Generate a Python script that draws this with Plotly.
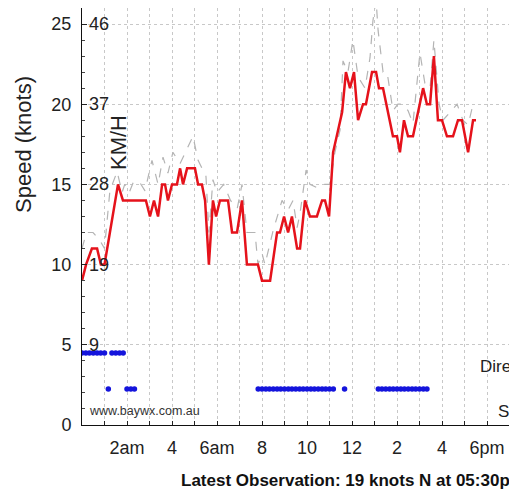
import plotly.graph_objects as go

# ---- data (hours since midnight, knots) ----
speed_h = [0.00, 0.18, 0.44, 0.67, 0.84, 1.00, 1.24, 1.60, 1.82, 2.84, 3.02, 3.20, 3.38, 3.56, 3.69,
           3.82, 4.00, 4.22, 4.36, 4.49, 4.67, 5.02, 5.16, 5.33, 5.47, 5.64, 5.82, 5.96, 6.13, 6.49,
           6.67, 6.89, 7.11, 7.33, 7.82, 8.00, 8.36, 8.67, 8.80, 8.98, 9.16, 9.33, 9.56, 9.69, 9.91,
           10.13, 10.44, 10.67, 10.80, 10.98, 11.16, 11.33, 11.56, 11.73, 11.91, 12.09, 12.27, 12.49,
           12.62, 12.89, 13.07, 13.20, 13.38, 13.82, 14.00, 14.13, 14.31, 14.49, 14.71, 15.16, 15.33,
           15.47, 15.64, 15.82, 16.00, 16.22, 16.49, 16.71, 16.89, 17.16, 17.38, 17.51]
speed_kt = [9, 10, 11, 11, 10, 10, 12, 15, 14, 14, 13, 14, 13, 15, 15,
            14, 15, 15, 16, 15, 16, 16, 15, 15, 14, 10, 14, 13, 14, 14,
            12, 12, 14, 10, 10, 9, 9, 12, 12, 13, 12, 13, 11, 11, 14,
            13, 13, 14, 14, 13, 17, 18, 19.5, 22, 21, 22, 19, 20,
            20, 22, 22, 21, 21, 18, 18, 17, 19, 18, 18, 21, 20,
            20, 23, 19, 19, 18, 18, 19, 19, 17, 19, 19]

gust_h = [0.00, 0.20, 0.49, 0.80, 1.00, 1.24, 1.56, 1.78, 1.90, 2.10, 2.30, 2.58, 2.80, 3.11, 3.38,
          3.60, 3.82, 4.04, 4.36, 4.58, 4.93, 5.16, 5.51, 5.64, 5.82, 6.00, 6.30, 6.60, 6.90, 7.11,
          7.33, 7.47, 7.69, 7.82, 8.00, 8.13, 8.49, 8.89, 9.16, 9.38, 9.56, 9.69, 9.96, 10.13, 10.44,
          10.67, 11.02, 11.24, 11.47, 11.60, 11.82, 12.04, 12.27, 12.58, 12.80, 12.93, 13.07, 13.16,
          13.38, 13.56, 13.82, 14.04, 14.27, 14.49, 14.71, 15.02, 15.24, 15.47, 15.64, 15.87, 16.04,
          16.36, 16.67, 16.93, 17.16, 17.38, 17.51]
gust_kt = [11, 12, 12, 11.5, 11, 14.6, 15.8, 14.5, 15, 14.5, 15.2, 15.1, 14.6, 16.5, 15,
           16.7, 15.7, 17, 16.3, 17, 18, 16.5, 15.5, 12, 15.3, 14.5, 15, 14, 13.5, 15,
           12, 12, 12, 10, 10.7, 10, 12.1, 14, 13.4, 14, 12.3, 13.2, 15.9, 15, 14.8,
           15, 15, 17, 18.4, 22.7, 22, 24, 21.7, 21, 22.9, 25.2, 26.5, 24.6,
           22, 22, 19.6, 20, 20, 19.6, 18.8, 23.2, 21.3, 21, 24, 20, 19,
           19.5, 20, 19, 18.7, 20, 20]

# wind direction strip: time (h) and row (1 = lower row, 2 = upper row)
dir_h = [0.00, 0.17, 0.33, 0.50, 0.67, 0.83, 1.00, 1.17, 1.33, 1.50, 1.67, 1.83, 2.00, 2.17, 2.33,
         7.83, 8.00, 8.17, 8.33, 8.50, 8.67, 8.83, 9.00, 9.17, 9.33, 9.50, 9.67, 9.83, 10.00, 10.17,
         10.33, 10.50, 10.67, 10.83, 11.00, 11.17, 11.67,
         13.17, 13.33, 13.50, 13.67, 13.83, 14.00, 14.17, 14.33, 14.50, 14.67, 14.83, 15.00, 15.17, 15.33]
dir_row = [2, 2, 2, 2, 2, 2, 2, 1, 2, 2, 2, 2, 1, 1, 1,
           1, 1, 1, 1, 1, 1, 1, 1, 1, 1, 1, 1, 1, 1, 1,
           1, 1, 1, 1, 1, 1, 1,
           1, 1, 1, 1, 1, 1, 1, 1, 1, 1, 1, 1, 1, 1]

x_tickvals = list(range(0, 20))
x_ticktext = ["", "", "2am", "", "4", "", "6am", "", "8", "", "10", "", "12", "", "2", "", "4", "", "6pm", ""]
y_tickvals = [0, 5, 10, 15, 20, 25]
kmh_knots = [25, 20, 15, 10, 5]
kmh_labels = ["46", "37", "28", "19", "9"]

FONT = "Liberation Sans, Arial, sans-serif"

# page body has an 8px margin: plot area spans viewport x 82..517, y 0..425
PW, PH = 435, 417


def px(vx):
    return (vx - 82) / PW


def py(vy):
    return (425 - vy) / PH


fig = go.Figure()
fig.add_trace(go.Scatter(x=gust_h, y=gust_kt, mode="lines",
                         line=dict(color="#b4b4b4", width=1.2, dash="dash"), hoverinfo="skip"))
fig.add_trace(go.Scatter(x=speed_h, y=speed_kt, mode="lines",
                         line=dict(color="#e5121b", width=2.5), hoverinfo="skip"))
fig.add_trace(go.Scatter(x=dir_h, y=dir_row, mode="markers", yaxis="y2",
                         marker=dict(color="#1414dc", size=5.5), hoverinfo="skip"))

annotations = []
for k, lab in zip(kmh_knots, kmh_labels):
    annotations.append(dict(x=px(87), xref="paper", y=k, yref="y", text=lab, showarrow=False,
                            xanchor="left", yanchor="middle", font=dict(family=FONT, size=18, color="#222")))
annotations += [
    dict(x=px(23), xref="paper", y=py(144), yref="paper", text="Speed (knots)", textangle=-90,
         showarrow=False, xanchor="center", yanchor="middle", font=dict(family=FONT, size=22, color="#222")),
    dict(x=px(118), xref="paper", y=py(143), yref="paper", text="KM/H", textangle=-90,
         showarrow=False, xanchor="center", yanchor="middle", font=dict(family=FONT, size=22, color="#222")),
    dict(x=px(87), xref="paper", y=py(411), yref="paper", text="www.baywx.com.au",
         showarrow=False, xanchor="left", yanchor="middle", font=dict(family=FONT, size=12.5, color="#333")),
    dict(x=px(478), xref="paper", y=py(366), yref="paper", text="Direction",
         showarrow=False, xanchor="left", yanchor="middle", font=dict(family=FONT, size=17, color="#222")),
    dict(x=px(496), xref="paper", y=py(411), yref="paper", text="Speed",
         showarrow=False, xanchor="left", yanchor="middle", font=dict(family=FONT, size=17, color="#222")),
    dict(x=px(179), xref="paper", y=py(480), yref="paper",
         text="<b>Latest Observation: 19 knots N at 05:30pm</b>",
         showarrow=False, xanchor="left", yanchor="middle", font=dict(family=FONT, size=17, color="#111")),
]

fig.update_layout(
    width=509, height=487,
    margin=dict(l=74, r=0, t=0, b=70),
    paper_bgcolor="white", plot_bgcolor="white",
    showlegend=False,
    font=dict(family=FONT, size=18, color="#222"),
    xaxis=dict(range=[0, PW / 22.5], tickvals=x_tickvals, ticktext=x_ticktext,
               ticks="inside", ticklen=4, tickcolor="#222",
               showline=True, linecolor="#111", linewidth=1,
               showgrid=True, gridcolor="#c8c8c8", griddash="dot", gridwidth=1,
               zeroline=False, ticklabelstandoff=6, tickfont=dict(size=18)),
    yaxis=dict(range=[0, PH / 16.04], tickvals=y_tickvals,
               ticks="inside", ticklen=5, tickcolor="#222",
               minor=dict(dtick=1, ticks="inside", ticklen=3, tickcolor="#444", showgrid=False),
               showline=True, linecolor="#111", linewidth=1,
               showgrid=True, gridcolor="#c8c8c8", griddash="dot", gridwidth=1,
               zeroline=False, ticklabelstandoff=6, tickfont=dict(size=18)),
    yaxis2=dict(range=[0, PH / 36], overlaying="y", visible=False),
    annotations=annotations,
)

fig.write_html("out.html")
